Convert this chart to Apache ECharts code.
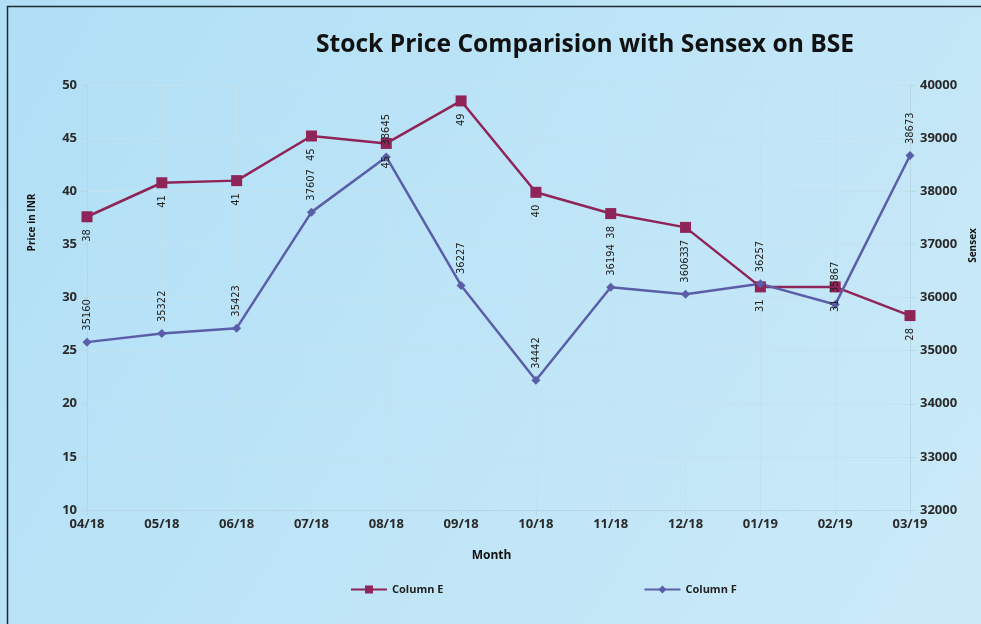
<!DOCTYPE html>
<html>
<head>
<meta charset="utf-8">
<script src="https://cdn.jsdelivr.net/npm/echarts@6/dist/echarts.min.js"></script>
<style>
  html, body { margin: 0; padding: 0; background: #b8e2f6; }
  #chart { width: 981px; height: 624px; }
</style>
</head>
<body>
<div id="chart"></div>
<script>
// 月份 / 数据
const months = ['04/18', '05/18', '06/18', '07/18', '08/18', '09/18', '10/18', '11/18', '12/18', '01/19', '02/19', '03/19']
const columnE = [37.6, 40.8, 41.0, 45.2, 44.5, 48.5, 39.9, 37.9, 36.6, 31.0, 31.0, 28.3]
const columnF = [35160, 35322, 35423, 37607, 38645, 36227, 34442, 36194, 36063, 36257, 35867, 38673]
const priceTicks = [10, 50, 5]      // min, max, interval
const sensexTicks = [32000, 40000, 1000]

const colorE = '#8e2457'
const colorF = '#5a5ea8'
const axisText = { color: '#2a2a2a', fontSize: 13, fontWeight: 'bold', fontFamily: 'Open Sans' }

const chart = echarts.init(document.getElementById('chart'), null, { renderer: 'canvas' })

const option = {
  backgroundColor: {
    type: 'linear', x: 0, y: 0, x2: 1, y2: 1,
    colorStops: [{ offset: 0, color: '#b1dff6' }, { offset: 1, color: '#cbeaf8' }]
  },
  graphic: [{
    type: 'rect',
    shape: { x: 7.5, y: 6.5, width: 990, height: 640 },
    style: { fill: 'none', stroke: '#1f2a30', lineWidth: 1.5 },
    silent: true
  }],
  title: {
    text: 'Stock Price Comparision with Sensex on BSE',
    left: 311,
    top: 27,
    textStyle: { color: '#111', fontSize: 24.6, fontWeight: 'bold', fontFamily: 'Open Sans' }
  },
  legend: {
    bottom: 24,
    left: 345,
    itemGap: 200,
    itemWidth: 36,
    itemHeight: 10,
    textStyle: { color: '#222', fontSize: 11, fontWeight: 'bold', fontFamily: 'Open Sans' },
    data: ['Column E', 'Column F']
  },
  grid: { left: 87, right: 71, top: 85, bottom: 114, outerBoundsMode: 'none' },
  xAxis: {
    type: 'category',
    data: months,
    boundaryGap: false,
    name: 'Month',
    nameLocation: 'middle',
    nameGap: 40,
    nameTextStyle: { color: '#111', fontSize: 12, fontWeight: 'bold', fontFamily: 'Open Sans', padding: [0, 0, 0, -14] },
    axisLine: { lineStyle: { color: '#b9d6e4' } },
    axisTick: { show: true, alignWithLabel: true, lineStyle: { color: '#b9d6e4' } },
    axisLabel: { ...axisText, margin: 8 },
    splitLine: { show: true, lineStyle: { color: '#c3e2f0', width: 1 } }
  },
  yAxis: [{
    type: 'value',
    min: priceTicks[0],
    max: priceTicks[1],
    interval: priceTicks[2],
    name: 'Price in INR',
    nameLocation: 'middle',
    nameGap: 50,
    nameTextStyle: { color: '#111', fontSize: 10, fontWeight: 'bold', fontFamily: 'Open Sans', padding: [0, 0, 0, 150] },
    axisLine: { show: true, lineStyle: { color: '#b9d6e4' } },
    axisTick: { show: true, lineStyle: { color: '#b9d6e4' } },
    axisLabel: { ...axisText, margin: 10 },
    splitLine: { show: true, lineStyle: { color: '#c3e2f0' } }
  }, {
    type: 'value',
    min: sensexTicks[0],
    max: sensexTicks[1],
    interval: sensexTicks[2],
    name: 'Sensex',
    nameLocation: 'middle',
    nameGap: 56,
    nameRotate: 90,
    nameTextStyle: { color: '#111', fontSize: 10, fontWeight: 'bold', fontFamily: 'Open Sans', padding: [0, 0, 0, 104] },
    axisLine: { show: true, lineStyle: { color: '#b9d6e4' } },
    axisTick: { show: true, lineStyle: { color: '#b9d6e4' } },
    axisLabel: { ...axisText, margin: 10, formatter: v => String(v) },
    splitLine: { show: false }
  }],
  series: [{
    name: 'Column E',
    type: 'line',
    yAxisIndex: 0,
    data: columnE,
    symbol: 'rect',
    symbolSize: 11,
    itemStyle: { color: colorE },
    lineStyle: { color: colorE, width: 2.5 },
    label: {
      show: true,
      position: 'bottom',
      distance: 7,
      rotate: 90,
      align: 'right',
      verticalAlign: 'middle',
      color: '#222',
      fontSize: 11,
      fontFamily: 'DejaVu Sans Condensed',
      formatter: p => Math.round(p.value)
    }
  }, {
    name: 'Column F',
    type: 'line',
    yAxisIndex: 1,
    data: columnF,
    symbol: 'diamond',
    symbolSize: 9,
    itemStyle: { color: colorF },
    lineStyle: { color: colorF, width: 2.5 },
    label: {
      show: true,
      position: 'top',
      distance: 7,
      rotate: 90,
      align: 'left',
      verticalAlign: 'middle',
      color: '#222',
      fontSize: 11,
      fontFamily: 'DejaVu Sans Condensed'
    }
  }]
}

chart.setOption(option)
</script>
</body>
</html>
